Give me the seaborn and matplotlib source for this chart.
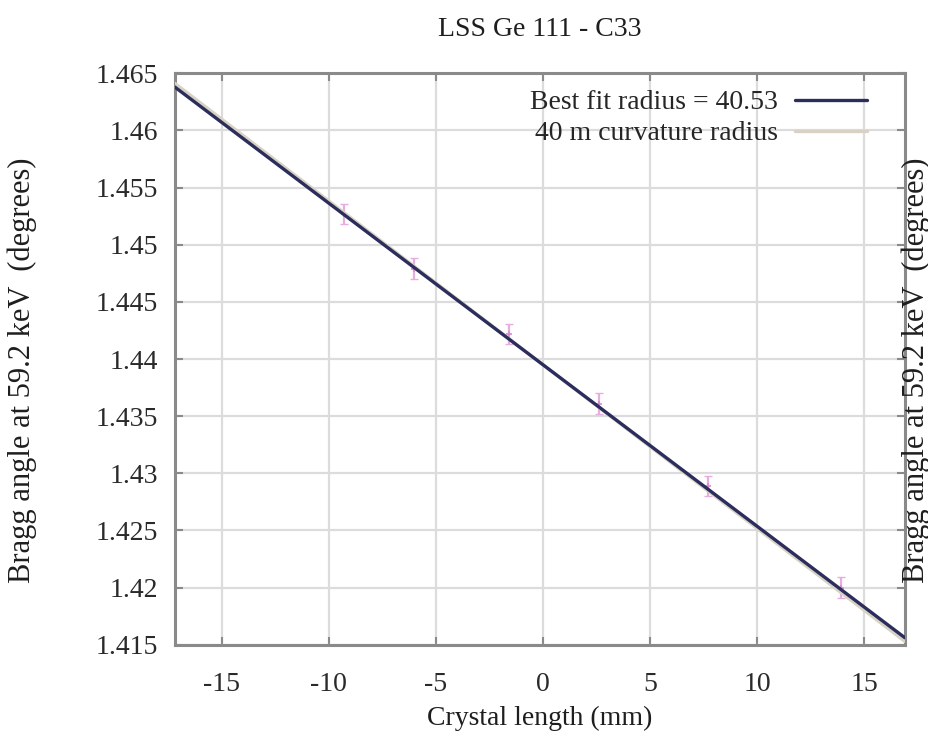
import numpy as np
import pandas as pd
import matplotlib
matplotlib.use("Agg")
import matplotlib.pyplot as plt
from matplotlib.ticker import FuncFormatter
import seaborn as sns

# Measured Bragg angle along the crystal
position_mm = [-9.3, -6.0, -1.6, 2.6, 7.7, 13.9]
bragg_deg = [1.4527, 1.4479, 1.4422, 1.4361, 1.4289, 1.4200]
bragg_err = [0.0009, 0.0009, 0.0009, 0.0009, 0.0009, 0.0009]

# Curvature models: radius in metres, angle at the crystal centre
fit_radius_m = 40.53
nominal_radius_m = 40.0
center_angle = 1.4395
x_span = [-17.2, 16.9]

x_ticks = [-15, -10, -5, 0, 5, 10, 15]
y_ticks = [1.415, 1.42, 1.425, 1.43, 1.435, 1.44, 1.445, 1.45, 1.455, 1.46, 1.465]

TEXT = "#1e1e1e"
YLABEL = "Bragg angle at 59.2 keV  (degrees)"


def model_line(radius_m):
    slope = -np.degrees(1.0 / (radius_m * 1000.0))  # deg per mm
    xs = np.array(x_span)
    return xs, center_angle + slope * xs


sns.set_theme(style="white")
plt.rcParams["font.family"] = ["Liberation Serif", "DejaVu Serif"]

fig = plt.figure(figsize=(9.29, 7.41), dpi=100)
ax = fig.add_axes([0.188, 0.130, 0.786, 0.771])

fx, fy = model_line(fit_radius_m)
nx, ny = model_line(nominal_radius_m)
lines = pd.DataFrame({
    "x": np.concatenate([fx, nx]),
    "y": np.concatenate([fy, ny]),
    "model": ["Best fit radius = 40.53"] * 2 + ["40 m curvature radius"] * 2,
})

ax.errorbar(position_mm, bragg_deg, yerr=bragg_err, fmt="none",
            ecolor="#e6aee0", elinewidth=1.6, capsize=3, zorder=2)
sns.scatterplot(x=position_mm, y=bragg_deg, ax=ax, color="#d98ad0",
                s=14, marker="+", linewidth=1.2, zorder=3, legend=False)
sns.lineplot(data=lines, x="x", y="y", hue="model",
             palette={"Best fit radius = 40.53": "#2b2d5c",
                      "40 m curvature radius": "#d8d2c4"},
             hue_order=["40 m curvature radius", "Best fit radius = 40.53"],
             linewidth=2.4, ax=ax, zorder=4)

ax.set_xlim(x_span)
ax.set_ylim(1.415, 1.465)
ax.set_xticks(x_ticks)
ax.set_yticks(y_ticks)
ax.yaxis.set_major_formatter(FuncFormatter(lambda v, p: f"{v:g}"))
ax.xaxis.set_major_formatter(FuncFormatter(lambda v, p: f"{v:g}"))

ax.grid(True, color="#dcdcdc", linewidth=1.6)
ax.set_axisbelow(True)
for s in ax.spines.values():
    s.set_color("#8a8a8a")
    s.set_linewidth(2.2)
ax.tick_params(direction="in", length=6, width=1.5, color="#8a8a8a",
               top=True, right=True, bottom=True, left=True,
               labelsize=20, labelcolor="#2a2a2a")
ax.tick_params(axis="y", pad=12)
ax.tick_params(axis="x", pad=20)

ax.set_xlabel("")
ax.set_ylabel("")
fig.text(0.581, 1 - 718 / 741, "Crystal length (mm)", ha="center",
         va="center", fontsize=20, color=TEXT)
fig.text(0.024, 0.50, YLABEL, rotation=90, ha="center", va="center",
         fontsize=22, color=TEXT)
fig.text(0.986, 0.50, YLABEL, rotation=90, ha="center", va="center",
         fontsize=22, color=TEXT)
fig.text(0.581, 1 - 30 / 741, "LSS Ge 111 - C33", ha="center",
         va="center", fontsize=20, color=TEXT)

handles, labels = ax.get_legend_handles_labels()
order = [labels.index("Best fit radius = 40.53"),
         labels.index("40 m curvature radius")]
leg = ax.legend([handles[i] for i in order], [labels[i] for i in order],
                loc="upper right", bbox_to_anchor=(0.975, 1.005),
                frameon=False, markerfirst=False,
                fontsize=20, handlelength=2.6, labelspacing=0.2,
                borderaxespad=0.3, handletextpad=0.6)

fig.savefig("out.png", dpi=100, facecolor="white")
